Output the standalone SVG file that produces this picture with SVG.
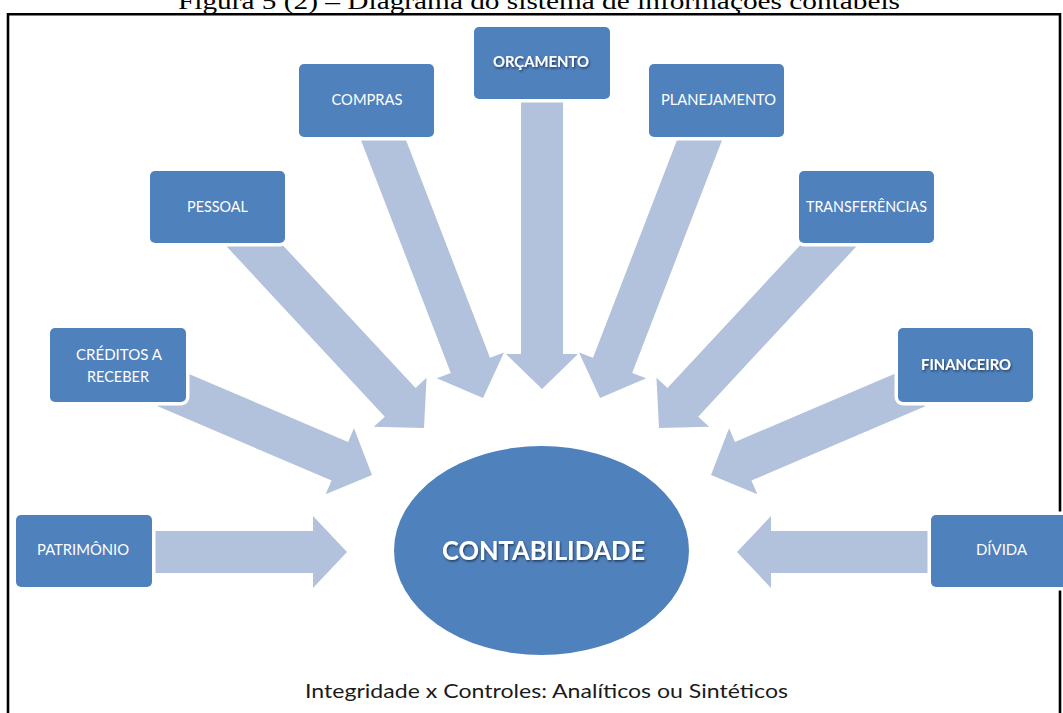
<svg xmlns="http://www.w3.org/2000/svg" width="1063" height="713" viewBox="0 0 1063 713">
<defs>
<style>
.box{fill:#4F81BD;stroke:#ffffff;stroke-width:7;paint-order:stroke}
.arr{fill:#B2C2DD}
.lbl{font-family:Lato,"Open Sans","Liberation Sans",sans-serif;font-size:15px;fill:#ffffff;text-anchor:middle}
.bold{font-weight:bold}
</style>
<filter id="sh" x="-20%" y="-50%" width="140%" height="200%">
<feDropShadow dx="1" dy="1.5" stdDeviation="1" flood-color="#000" flood-opacity="0.55"/>
</filter>
</defs>
<rect width="1063" height="713" fill="#ffffff"/>
<text x="178" y="9" font-family="Liberation Serif,Times New Roman,serif" font-size="23" fill="#000" textLength="722" lengthAdjust="spacingAndGlyphs">Figura 5 (2) – Diagrama do sistema de informações contábeis</text>
<path d="M8,713 V14.3 H1060 V713" fill="none" stroke="#000" stroke-width="2.6"/>
<g id="connectors">
<path class="arr" transform="translate(347,552)" d="M0,0 L-34,-36 L-34,-21 L-207,-21 L-207,21 L-34,21 L-34,36 Z"/>
<path class="arr" transform="translate(737,552) rotate(180)" d="M0,0 L-34,-36 L-34,-21 L-210,-21 L-210,21 L-34,21 L-34,36 Z"/>
<path class="arr" transform="translate(372,475) rotate(23.13)" d="M0,0 L-35,-36 L-35,-21 L-224,-21 L-224,21 L-35,21 L-35,36 Z"/>
<path class="arr" transform="translate(711,475) rotate(156.87)" d="M0,0 L-35,-36 L-35,-21 L-224,-21 L-224,21 L-35,21 L-35,36 Z"/>
<path class="arr" transform="translate(424,428) rotate(47.1)" d="M0,0 L-35,-36 L-35,-21 L-270,-21 L-270,21 L-35,21 L-35,36 Z"/>
<path class="arr" transform="translate(659,428) rotate(132.9)" d="M0,0 L-35,-36 L-35,-21 L-270,-21 L-270,21 L-35,21 L-35,36 Z"/>
<path class="arr" transform="translate(483,398) rotate(68.9)" d="M0,0 L-35,-36 L-35,-21 L-292,-21 L-292,21 L-35,21 L-35,36 Z"/>
<path class="arr" transform="translate(600,398) rotate(111.1)" d="M0,0 L-35,-36 L-35,-21 L-292,-21 L-292,21 L-35,21 L-35,36 Z"/>
<path class="arr" transform="translate(542,389) rotate(90)" d="M0,0 L-35,-36 L-35,-21 L-299,-21 L-299,21 L-35,21 L-35,36 Z"/>
</g>
<g id="orcamento">
<rect class="box" x="474" y="27" width="136" height="72" rx="5"/>
<text class="lbl bold" x="541" y="67" textLength="96" lengthAdjust="spacingAndGlyphs" filter="url(#sh)">ORÇAMENTO</text>
</g>
<g id="compras">
<rect class="box" x="299" y="64" width="135" height="73" rx="5"/>
<text class="lbl" x="367" y="105" textLength="71" lengthAdjust="spacingAndGlyphs">COMPRAS</text>
</g>
<g id="planejamento">
<rect class="box" x="649" y="64" width="135" height="73" rx="5"/>
<text class="lbl" x="718.5" y="105" textLength="115" lengthAdjust="spacingAndGlyphs">PLANEJAMENTO</text>
</g>
<g id="pessoal">
<rect class="box" x="150" y="171" width="135" height="72" rx="5"/>
<text class="lbl" x="217.5" y="212" textLength="61" lengthAdjust="spacingAndGlyphs">PESSOAL</text>
</g>
<g id="transferencias">
<rect class="box" x="799" y="171" width="135" height="72" rx="5"/>
<text class="lbl" x="866.5" y="212" textLength="121" lengthAdjust="spacingAndGlyphs">TRANSFERÊNCIAS</text>
</g>
<g id="creditos">
<rect class="box" x="50" y="328" width="136" height="74" rx="5"/>
<text class="lbl" x="119" y="360" textLength="86" lengthAdjust="spacingAndGlyphs">CRÉDITOS  A</text>
<text class="lbl" x="118" y="382" textLength="62" lengthAdjust="spacingAndGlyphs">RECEBER</text>
</g>
<g id="financeiro">
<rect class="box" x="898" y="328" width="135" height="74" rx="5"/>
<text class="lbl bold" x="966" y="370" textLength="90" lengthAdjust="spacingAndGlyphs" filter="url(#sh)">FINANCEIRO</text>
</g>
<g id="patrimonio">
<rect class="box" x="16" y="515" width="136" height="72" rx="5"/>
<text class="lbl" x="83" y="555" textLength="92" lengthAdjust="spacingAndGlyphs">PATRIMÔNIO</text>
</g>
<g id="divida">
<rect class="box" x="931" y="515" width="136" height="72" rx="5"/>
<text class="lbl" x="1001.5" y="555" textLength="51" lengthAdjust="spacingAndGlyphs">DÍVIDA</text>
</g>
<g id="contabilidade">
<ellipse cx="541.5" cy="550.5" rx="147.5" ry="104.5" fill="#4F81BD"/>
<text class="lbl bold" x="543.5" y="560" font-size="26" style="font-size:26px" textLength="203" lengthAdjust="spacingAndGlyphs" filter="url(#sh)">CONTABILIDADE</text>
</g>
<text x="546.5" y="698" font-family="Lato,'Open Sans','Liberation Sans',sans-serif" font-size="19" fill="#1a1a1a" text-anchor="middle" textLength="483" lengthAdjust="spacingAndGlyphs">Integridade x Controles: Analíticos ou Sintéticos</text>
</svg>
